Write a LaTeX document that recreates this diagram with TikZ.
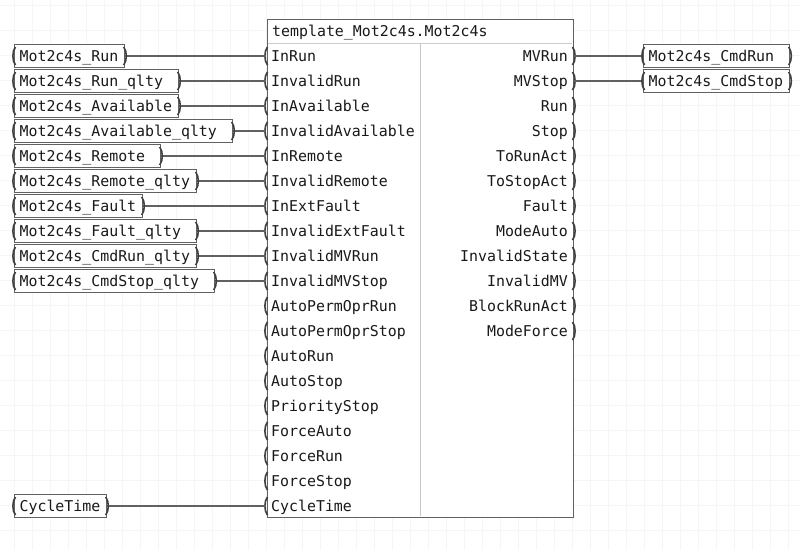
\documentclass[tikz,border=0pt]{standalone}
\usepackage{fontspec}
\setmonofont{DejaVu Sans Mono}
\usetikzlibrary{calc}
\begin{document}
\begin{tikzpicture}[x=1pt,y=-1pt,
  every node/.style={font=\ttfamily\fontsize{14.9}{17}\selectfont, text=black!90},
  var/.style={draw=black!62, line width=1.2pt, fill=white, anchor=west, minimum height=23pt, inner xsep=5pt, inner ysep=0pt, align=left, text height=12pt, text depth=2pt},
  wire/.style={draw=black!62, line width=1.4pt},
  brk/.style={draw=black!75, line width=1.6pt},
  gridline/.style={draw=black!4, line width=1pt},
  lbl/.style={inner sep=0pt}
]
\useasboundingbox (0,0) rectangle (800,550);
\fill[white] (0,0) rectangle (800,550);
% background grid
\foreach \gx in {14,32,...,800} \draw[gridline] (\gx,0) -- (\gx,550);
\foreach \gy in {5,30,...,550} \draw[gridline] (0,\gy) -- (800,\gy);

% main block
\node[draw=black!62, line width=1.2pt, fill=white, minimum width=306pt, minimum height=498pt, inner sep=0pt, anchor=north west] (blk) at (267,19) {};
\draw[draw=black!20, line width=1pt] (268,43) -- (572,43);
\draw[draw=black!22, line width=1pt] (420,43) -- (420,516);
\node[lbl, anchor=base west] (title) at (272,36) {template\_Mot2c4s.Mot2c4s};

% left pins
\foreach \i/\t in {1/InRun,2/InvalidRun,3/InAvailable,4/InvalidAvailable,5/InRemote,6/InvalidRemote,7/InExtFault,8/InvalidExtFault,9/InvalidMVRun,10/InvalidMVStop,11/AutoPermOprRun,12/AutoPermOprStop,13/AutoRun,14/AutoStop,15/PriorityStop,16/ForceAuto,17/ForceRun,18/ForceStop,19/CycleTime} {
  \pgfmathsetmacro{\yy}{31+25*\i}
  \coordinate (in\i) at (266,\yy);
  \node[lbl, anchor=base west] (inl\i) at (271,\yy+5) {\t};
  \draw[brk] (267.5,\yy-9) .. controls (264,\yy-5) and (264,\yy+5) .. (267.5,\yy+9);
}
% right pins
\foreach \i/\t in {1/MVRun,2/MVStop,3/Run,4/Stop,5/ToRunAct,6/ToStopAct,7/Fault,8/ModeAuto,9/InvalidState,10/InvalidMV,11/BlockRunAct,12/ModeForce} {
  \pgfmathsetmacro{\yy}{31+25*\i}
  \coordinate (out\i) at (574,\yy);
  \node[lbl, anchor=base east] (outl\i) at (568,\yy+5) {\t};
  \draw[brk] (572.5,\yy-9) .. controls (576,\yy-5) and (576,\yy+5) .. (572.5,\yy+9);
}

% input variables
\foreach \i/\w/\t in {1/110/Mot2c4s\_Run,2/164/Mot2c4s\_Run\_qlty,3/164/Mot2c4s\_Available,4/218/Mot2c4s\_Available\_qlty,5/146/Mot2c4s\_Remote,6/182/Mot2c4s\_Remote\_qlty,7/128/Mot2c4s\_Fault,8/182/Mot2c4s\_Fault\_qlty,9/182/Mot2c4s\_CmdRun\_qlty,10/200/Mot2c4s\_CmdStop\_qlty,19/92/CycleTime} {
  \pgfmathsetmacro{\yy}{31+25*\i}
  \pgfmathsetmacro{\tw}{\w-10}
  \node[var, text width=\tw pt] (v\i) at (14,\yy) {\t};
  \draw[wire] (v\i.east) -- (in\i);
  \draw[brk] (15.5,\yy-9) .. controls (12,\yy-5) and (12,\yy+5) .. (15.5,\yy+9);
  \draw[brk] ($(v\i.east)+(-1.5,-9)$) .. controls ($(v\i.east)+(2,-5)$) and ($(v\i.east)+(2,5)$) .. ($(v\i.east)+(-1.5,9)$);
}

% output variables
\foreach \i/\t in {1/Mot2c4s\_CmdRun,2/Mot2c4s\_CmdStop} {
  \pgfmathsetmacro{\yy}{31+25*\i}
  \node[var, text width=136pt] (o\i) at (643,\yy) {\t};
  \draw[wire] (out\i) -- (o\i.west);
  \draw[brk] (644.5,\yy-9) .. controls (641,\yy-5) and (641,\yy+5) .. (644.5,\yy+9);
  \draw[brk] ($(o\i.east)+(-1.5,-9)$) .. controls ($(o\i.east)+(2,-5)$) and ($(o\i.east)+(2,5)$) .. ($(o\i.east)+(-1.5,9)$);
}
\end{tikzpicture}
\end{document}
